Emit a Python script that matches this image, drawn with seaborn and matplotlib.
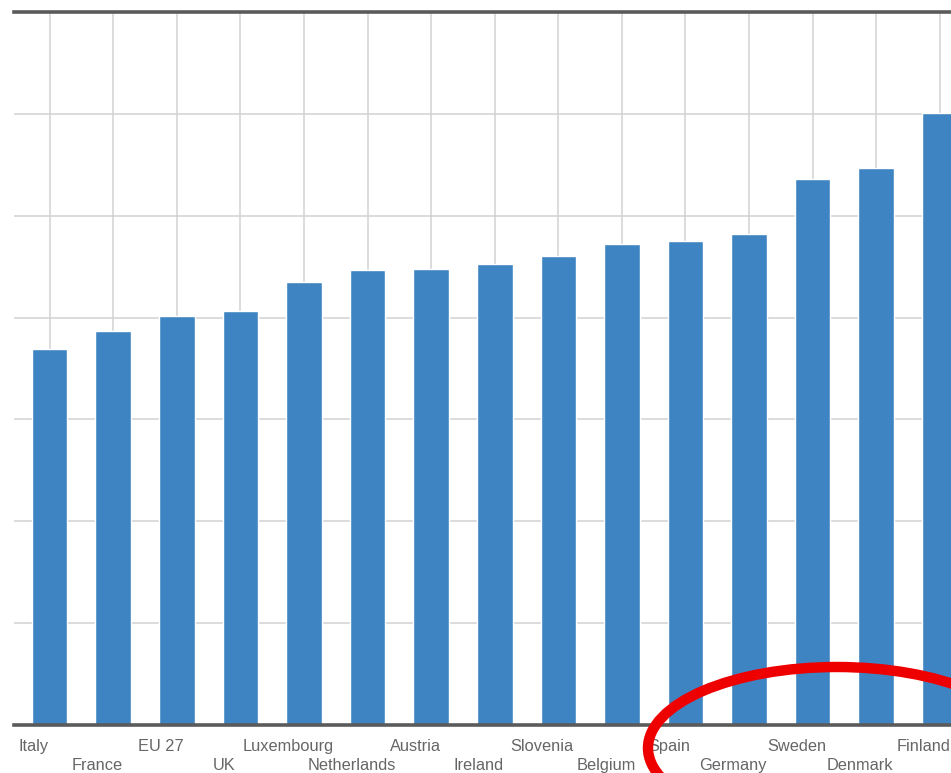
import matplotlib
matplotlib.use("Agg")
import matplotlib.pyplot as plt
import matplotlib.transforms as mtransforms
from matplotlib.patches import Ellipse
import seaborn as sns
import pandas as pd

countries = ["Italy", "France", "EU 27", "UK", "Luxembourg", "Netherlands", "Austria",
             "Ireland", "Slovenia", "Belgium", "Spain", "Germany", "Sweden", "Denmark", "Finland"]
values = [36.9, 38.7, 40.2, 40.6, 43.5, 44.7, 44.8, 45.3, 46.0, 47.2, 47.5, 48.2, 53.6, 54.7, 60.1]

df = pd.DataFrame({"country": countries, "value": values})

sns.set_style("white")
plt.rcParams["font.family"] = ["Liberation Sans", "DejaVu Sans"]

fig = plt.figure(figsize=(9.51, 7.73), dpi=100)
ax = fig.add_axes([14 / 951, 1 - 725 / 773, 964 / 951, 713 / 773])

sns.barplot(data=df, x="country", y="value", color="#3f84c2", width=0.56,
            saturation=1, ax=ax, zorder=3)

ax.set_xlim(-0.56, 14.6)
ax.set_ylim(0, 70)
ax.set_yticks(range(0, 71, 10))
ax.set_xticks(range(len(countries)))
ax.grid(True, color="#d2d2d2", lw=1.1, zorder=0)
ax.set_axisbelow(True)
ax.tick_params(length=0, labelleft=False, labelbottom=False)
ax.set_xlabel(""); ax.set_ylabel("")

for side in ["left", "right"]:
    ax.spines[side].set_visible(False)
for side in ["top", "bottom"]:
    ax.spines[side].set_color("#5a5a5a")
    ax.spines[side].set_linewidth(2.6)
    ax.spines[side].set_zorder(5)

# staggered labels, two rows
base = mtransforms.blended_transform_factory(ax.transData, ax.transAxes)
for i, name in enumerate(countries):
    dy = -14 if i % 2 == 0 else -33
    tr = base + mtransforms.ScaledTranslation(-16 / 100, dy / 100, fig.dpi_scale_trans)
    ax.text(i, 0, name, transform=tr, ha="center", va="top", fontsize=11.8,
            color="#666666", clip_on=False)

# red highlight ellipse
fig.add_artist(Ellipse((837 / 951, 1 - 748 / 773), 378 / 951, 162 / 773,
                       transform=fig.transFigure, fill=False, ec="#ee0000", lw=7.5, zorder=10))

fig.savefig("out.png", dpi=100)
